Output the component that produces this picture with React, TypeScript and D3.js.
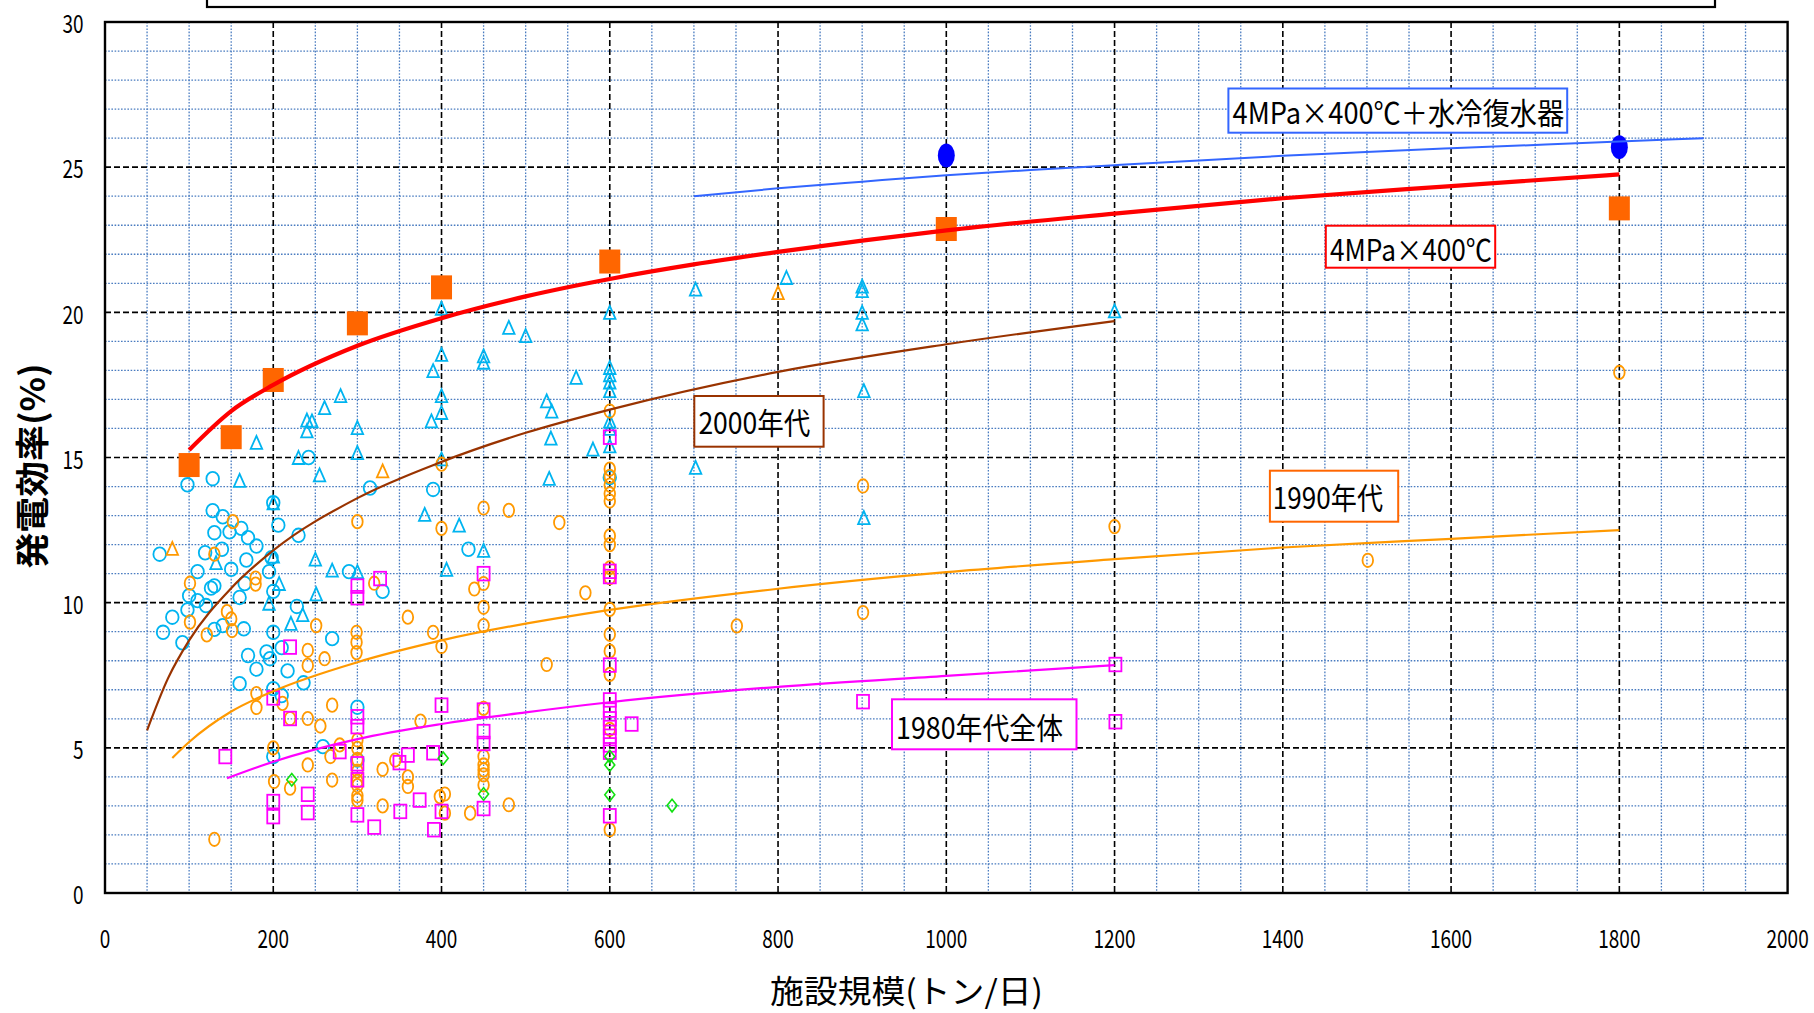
import React from 'react';
import * as d3 from 'd3';

const W = 1814;
const H = 1013;

const xTicks = [0, 200, 400, 600, 800, 1000, 1200, 1400, 1600, 1800, 2000];
const yTicks = [0, 5, 10, 15, 20, 25, 30];
const xMinor = d3.range(0, 2001, 50);
const yMinor = d3.range(0, 31, 1);

const xTitle = '施設規模(トン/日)';
const yTitle = '発電効率(%)';

// Fitted curves
const lineWaterCooled: [number, number][] = [[700, 24.0], [800, 24.27], [900, 24.5], [1000, 24.72], [1100, 24.9], [1200, 25.07], [1400, 25.39], [1600, 25.65], [1800, 25.88], [1900, 26.0]];
const line4MPa: [number, number][] = [[100, 15.26], [150, 16.6], [200, 17.5], [300, 18.85], [400, 19.8], [500, 20.55], [600, 21.15], [700, 21.65], [800, 22.08], [900, 22.47], [1000, 22.82], [1200, 23.4], [1400, 23.93], [1600, 24.35], [1800, 24.75]];
const line2000s: [number, number][] = [[50, 5.6], [75, 7.4], [100, 8.7], [150, 10.5], [200, 11.8], [300, 13.6], [400, 14.85], [500, 15.85], [600, 16.65], [800, 17.95], [1000, 18.9], [1200, 19.7]];
const line1990s: [number, number][] = [[80, 4.65], [100, 5.2], [150, 6.25], [200, 6.95], [300, 7.95], [400, 8.7], [600, 9.75], [800, 10.48], [1000, 11.05], [1200, 11.5], [1400, 11.9], [1600, 12.2], [1800, 12.5]];
const line1980s: [number, number][] = [[145, 3.95], [200, 4.52], [300, 5.3], [400, 5.82], [500, 6.22], [600, 6.57], [800, 7.1], [1000, 7.48], [1200, 7.85]];

// Scatter series
const calcSquares: [number, number][] = [[100, 14.74], [150, 15.7], [200, 17.67], [300, 19.62], [400, 20.86], [600, 21.75], [1000, 22.87], [1800, 23.58]];
const blueDots: [number, number][] = [[1000, 25.4], [1800, 25.69]];

const cyanCircles: [number, number][] = [
  [65, 11.67], [69, 8.98], [80, 9.5], [92, 8.62], [98, 14.06], [98, 9.75], [100, 10.24], [110, 11.07], [110, 10.07],
  [119, 11.72], [120, 9.9], [126, 10.5], [128, 14.27], [128, 13.17], [130, 12.41], [130, 10.58], [130, 9.08], [139, 11.84],
  [140, 12.96], [140, 9.21], [148, 12.44], [150, 11.15], [160, 10.18], [160, 7.21], [162, 12.56], [165, 9.1], [166, 10.66],
  [168, 11.47], [170, 12.24], [170, 8.18], [180, 11.95], [180, 7.71], [192, 8.3], [196, 8.07], [195, 11.07], [198, 11.55],
  [200, 13.44], [200, 10.39], [200, 8.98], [200, 7.04], [200, 4.7], [206, 12.67], [210, 8.45], [210, 6.8], [217, 7.65],
  [228, 9.87], [230, 12.32], [236, 7.24], [242, 15.0], [259, 5.04], [270, 8.76], [290, 11.07], [300, 6.4], [300, 4.58],
  [315, 13.95], [330, 10.39], [390, 13.9], [432, 11.84], [600, 14.31]
];

const cyanTriangles: [number, number][] = [
  [132, 11.38], [160, 14.21], [180, 15.52], [195, 9.98], [200, 13.44], [200, 11.6], [207, 10.66], [221, 9.29], [230, 15.0],
  [235, 9.59], [240, 16.29], [240, 15.92], [246, 16.26], [250, 11.5], [251, 10.3], [255, 14.4], [261, 16.72], [270, 11.12],
  [280, 17.13], [300, 16.03], [300, 15.17], [300, 11.07], [380, 13.04], [388, 16.26], [390, 17.99], [400, 20.14], [400, 18.55],
  [400, 17.13], [400, 16.55], [400, 14.95], [406, 11.15], [421, 12.67], [450, 18.5], [450, 18.28], [450, 11.8], [480, 19.48],
  [500, 19.2], [525, 16.95], [528, 14.28], [531, 16.6], [530, 15.67], [560, 17.76], [580, 15.29], [600, 20.0], [600, 18.1],
  [600, 17.85], [600, 17.6], [600, 17.3], [600, 16.25], [600, 16.0], [600, 15.4], [702, 20.8], [702, 14.66], [810, 21.2],
  [900, 20.9], [900, 20.75], [900, 20.0], [900, 19.6], [902, 17.3], [902, 12.93], [1200, 20.05]
];

const orangeCircles: [number, number][] = [
  [101, 10.67], [101, 9.33], [121, 8.89], [130, 11.67], [130, 1.85], [145, 9.69], [150, 9.44], [151, 9.04], [152, 12.79],
  [179, 10.85], [179, 10.64], [180, 6.87], [180, 6.39], [200, 5.0], [201, 3.84], [211, 6.53], [220, 6.01], [220, 3.61],
  [241, 8.36], [241, 7.84], [241, 6.01], [241, 4.41], [251, 9.21], [256, 5.75], [261, 8.07], [270, 6.47], [268, 4.7],
  [270, 3.89], [279, 5.1], [299, 8.98], [299, 8.64], [299, 8.28], [300, 12.79], [300, 5.27], [300, 4.98], [300, 4.6],
  [300, 4.2], [300, 3.85], [300, 3.7], [300, 3.35], [300, 3.2], [320, 10.67], [330, 4.26], [330, 3.0], [345, 4.58],
  [360, 9.5], [360, 4.0], [360, 3.67], [375, 5.92], [390, 8.98], [398, 3.32], [400, 14.77], [400, 12.56], [400, 8.49],
  [404, 3.41], [404, 2.75], [434, 2.75], [439, 10.47], [450, 13.26], [450, 10.66], [450, 9.84], [450, 9.21], [450, 6.36],
  [450, 4.7], [450, 4.41], [450, 4.24], [450, 4.07], [450, 3.72], [480, 13.18], [480, 3.04], [525, 7.87], [540, 12.76],
  [571, 10.34], [600, 16.6], [600, 14.6], [600, 14.35], [600, 14.05], [600, 13.75], [600, 13.5], [600, 12.3], [600, 12.0],
  [600, 11.2], [600, 10.86], [600, 9.77], [600, 8.91], [600, 8.33], [600, 7.53], [600, 5.64], [600, 2.18], [751, 9.2],
  [901, 14.02], [901, 9.66], [1200, 12.62], [1501, 11.46], [1800, 17.93]
];

const orangeTriangles: [number, number][] = [[80, 11.87], [330, 14.54], [800, 20.68]];

const magentaSquares: [number, number][] = [
  [143, 4.7], [200, 6.72], [200, 3.15], [200, 2.63], [220, 8.47], [220, 6.01], [241, 3.4], [241, 2.77], [279, 4.87],
  [300, 10.57], [300, 10.17], [300, 6.07], [300, 5.73], [300, 4.45], [300, 3.9], [300, 2.69], [320, 2.27], [327, 10.83],
  [350, 4.49], [351, 2.81], [360, 4.75], [374, 3.2], [390, 4.83], [391, 2.18], [400, 6.47], [400, 2.81], [450, 11.0],
  [450, 6.3], [450, 5.56], [450, 5.15], [450, 2.91], [600, 15.7], [600, 11.08], [600, 10.9], [600, 7.85], [600, 6.65],
  [600, 6.3], [600, 6.0], [600, 5.7], [600, 5.4], [600, 5.1], [600, 4.85], [600, 2.66], [626, 5.82], [901, 6.59],
  [1201, 7.87], [1201, 5.9]
];

const greenDiamonds: [number, number][] = [[222, 3.9], [402, 4.64], [450, 3.41], [600, 4.7], [600, 4.41], [600, 3.38], [674, 3.01]];

const labelWater = '4MPa×400℃＋水冷復水器';
const label4MPa = '4MPa×400℃';
const label2000 = '2000年代';
const label1990 = '1990年代';
const label1980 = '1980年代全体';

const FONT = '"Noto Sans CJK JP", "Noto Sans", sans-serif';

export default function App() {
  const x = d3.scaleLinear().domain([0, 2000]).range([105, 1787.6]);
  const y = d3.scaleLinear().domain([0, 30]).range([893, 22]);
  const line = d3.line<[number, number]>().x(d => x(d[0])).y(d => y(d[1])).curve(d3.curveMonotoneX);

  const tri = (w: number, h: number) => `M0,${-h / 2}L${w / 2},${h / 2}L${-w / 2},${h / 2}Z`;
  const dia = (w: number, h: number) => `M0,${-h / 2}L${w / 2},0L0,${h / 2}L${-w / 2},0Z`;

  const box = (x0: number, y0: number, x1: number, y1: number, color: string, text: string, tx0: number, tx1: number, base: number, fs: number) => (
    <g>
      <rect x={x0} y={y0} width={x1 - x0} height={y1 - y0} fill="#fff" stroke={color} strokeWidth={2} />
      <text x={tx0} y={base} fontSize={fs} fontFamily={FONT} fill="#000" textLength={tx1 - tx0} lengthAdjust="spacingAndGlyphs">{text}</text>
    </g>
  );

  return (
    <svg width={W} height={H} style={{ position: 'absolute', left: 0, top: 0, display: 'block', background: '#fff' }}>
      <rect x={0} y={0} width={W} height={H} fill="#fff" />
      {/* title box (cut off) */}
      <rect x={207} y={-20} width={1508} height={27} fill="#fff" stroke="#000" strokeWidth={2.2} />

      {/* minor grid */}
      <g stroke="#4a7cc0" strokeWidth={1.3} strokeDasharray="1.6,1.6">
        {xMinor.filter(v => v % 200 !== 0).map(v => (
          <line key={'xm' + v} x1={x(v)} x2={x(v)} y1={y(30)} y2={y(0)} />
        ))}
        {yMinor.filter(v => v % 5 !== 0).map(v => (
          <line key={'ym' + v} x1={x(0)} x2={x(2000)} y1={y(v)} y2={y(v)} />
        ))}
      </g>
      {/* major grid */}
      <g stroke="#000" strokeWidth={1.6} strokeDasharray="6,3">
        {xTicks.filter(v => v > 0 && v < 2000).map(v => (
          <line key={'xM' + v} x1={x(v)} x2={x(v)} y1={y(30)} y2={y(0)} />
        ))}
        {yTicks.filter(v => v > 0 && v < 30).map(v => (
          <line key={'yM' + v} x1={x(0)} x2={x(2000)} y1={y(v)} y2={y(v)} />
        ))}
      </g>

      {/* scatter */}
      <g fill="none" stroke="#00b4f0" strokeWidth={1.8}>
        {cyanCircles.map((d, i) => <ellipse key={'cc' + i} cx={x(d[0])} cy={y(d[1])} rx={6.3} ry={6.8} />)}
        {cyanTriangles.map((d, i) => <path key={'ct' + i} d={tri(11.5, 13)} transform={`translate(${x(d[0])},${y(d[1])})`} />)}
      </g>
      <g fill="none" stroke="#ff9900" strokeWidth={1.8}>
        {orangeCircles.map((d, i) => <ellipse key={'oc' + i} cx={x(d[0])} cy={y(d[1])} rx={5.3} ry={6.7} />)}
        {orangeTriangles.map((d, i) => <path key={'ot' + i} d={tri(11.5, 13)} transform={`translate(${x(d[0])},${y(d[1])})`} />)}
      </g>
      <g fill="none" stroke="#ff00ff" strokeWidth={1.8}>
        {magentaSquares.map((d, i) => <rect key={'ms' + i} x={x(d[0]) - 6} y={y(d[1]) - 6.8} width={12} height={13.6} />)}
      </g>
      <g fill="none" stroke="#11e011" strokeWidth={1.6}>
        {greenDiamonds.map((d, i) => <path key={'gd' + i} d={dia(10, 12.5)} transform={`translate(${x(d[0])},${y(d[1])})`} />)}
      </g>
      <g fill="#ff6600">
        {calcSquares.map((d, i) => <rect key={'sq' + i} x={x(d[0]) - 10.5} y={y(d[1]) - 12} width={21} height={24} />)}
      </g>
      <g fill="#0000ff">
        {blueDots.map((d, i) => <ellipse key={'bd' + i} cx={x(d[0])} cy={y(d[1])} rx={8.5} ry={12} />)}
      </g>

      {/* fitted curves */}
      <path d={line(line1980s) || ''} fill="none" stroke="#ff00ff" strokeWidth={2.2} />
      <path d={line(line1990s) || ''} fill="none" stroke="#ff9900" strokeWidth={2.2} />
      <path d={line(line2000s) || ''} fill="none" stroke="#993300" strokeWidth={2.2} />
      <path d={line(line4MPa) || ''} fill="none" stroke="#ff0000" strokeWidth={4.2} />
      <path d={line(lineWaterCooled) || ''} fill="none" stroke="#3366ff" strokeWidth={2} />

      {/* plot frame */}
      <rect x={x(0)} y={y(30)} width={x(2000) - x(0)} height={y(0) - y(30)} fill="none" stroke="#000" strokeWidth={2.4} />

      {/* labels */}
      {box(1228.4, 88.5, 1567.2, 132.7, '#3366ff', labelWater, 1232.6, 1564.2, 124, 30)}
      {box(1325.8, 225.7, 1495.2, 267.7, '#ff0000', label4MPa, 1330, 1492, 261, 30)}
      {box(694.3, 396, 823.6, 446.7, '#993300', label2000, 698.4, 810.4, 434, 30)}
      {box(1269.9, 470.7, 1398.2, 521.7, '#ff6600', label1990, 1272.8, 1383, 509, 30)}
      {box(892, 699.3, 1076.5, 749.3, '#ff00ff', label1980, 896, 1063, 739, 30)}

      {/* axis tick labels */}
      <g fontFamily={FONT} fontSize={25} fill="#000">
        {yTicks.map(v => (
          <g key={'yl' + v} transform={`translate(83.5,${y(v)}) scale(0.76,1)`}>
            <text textAnchor="end" dominantBaseline="central">{v}</text>
          </g>
        ))}
        {xTicks.map(v => (
          <g key={'xl' + v} transform={`translate(${x(v)},937) scale(0.76,1)`}>
            <text textAnchor="middle" dominantBaseline="central">{v}</text>
          </g>
        ))}
      </g>

      {/* axis titles */}
      <text x={906.5} y={989} fontFamily={FONT} fontSize={32} textAnchor="middle" dominantBaseline="central" textLength={273} lengthAdjust="spacingAndGlyphs">{xTitle}</text>
      <text transform="translate(30,466) rotate(-90)" fontFamily={FONT} fontSize={34} fontWeight="bold" textAnchor="middle" dominantBaseline="central" textLength={205} lengthAdjust="spacingAndGlyphs">{yTitle}</text>
    </svg>
  );
}
